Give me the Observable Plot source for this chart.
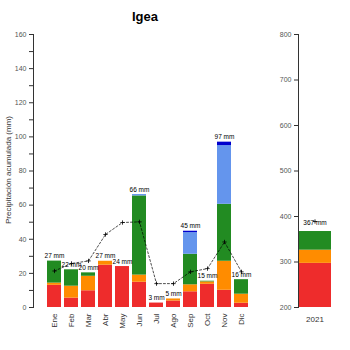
<!DOCTYPE html>
<html>
<head>
<meta charset="utf-8">
<script src="https://cdn.jsdelivr.net/npm/d3@7"></script>
<script src="https://cdn.jsdelivr.net/npm/@observablehq/plot@0.6"></script>
<style>
  html, body { margin: 0; padding: 0; background: #fff; }
  #wrap { position: relative; width: 350px; height: 350px; overflow: hidden; font-family: "Liberation Sans", Arial, sans-serif; }
  #left, #right { position: absolute; top: 0; }
  #left { left: 0; }
  #right { left: 262px; }
  #title { position: absolute; left: 95px; width: 100px; top: 9px; text-align: center; font-weight: bold; font-size: 13px; color: #000; }
  #ylab { position: absolute; left: 8px; top: 170px; transform: translate(-50%, -50%) rotate(-90deg); white-space: nowrap; font-size: 8px; color: #333; font-family: "Liberation Sans Narrow", "Liberation Sans", sans-serif; }
</style>
</head>
<body>
<div id="wrap">
  <div id="left"></div>
  <div id="right"></div>
  <div id="title">Igea</div>
  <div id="ylab">Precipitación acumulada (mm)</div>
</div>
<script>
const months = ["Ene","Feb","Mar","Abr","May","Jun","Jul","Ago","Sep","Oct","Nov","Dic"];
const classes = ["c1","c2","c3","c4","c5"];
const colors = ["#EE2C2C","#FF8C00","#228B22","#6495ED","#0000CD"];
const red       = [13.0, 5.5, 9.8, 24.8, 24.0, 14.8, 2.6, 3.8, 9.2, 13.6, 10.1, 2.5];
const orange    = [1.3, 7.0, 8.5, 2.3, 0, 4.2, 0, 1.2, 4.1, 1.4, 17.0, 5.3];
const green     = [12.9, 9.6, 2.0, 0, 0, 46.4, 0, 0, 17.9, 0.4, 33.4, 8.5];
const lightblue = [0, 0, 0, 0, 0, 0.8, 0, 0, 12.7, 0, 34.4, 0];
const darkblue  = [0, 0, 0, 0, 0, 0, 0, 0, 0.8, 0, 2.0, 0];
const totals    = [27, 22, 20, 27, 24, 66, 3, 5, 45, 15, 97, 16];
const average   = [21.4, 25.8, 27.3, 42.8, 49.8, 50.2, 14.0, 14.0, 20.9, 22.8, 38.4, 20.9];

const years = ["2021"];
const annualRed = [297];
const annualOrange = [29];
const annualGreen = [41];
const annualTotal = [367];
const annualAverage = [389];

const series = [red, orange, green, lightblue, darkblue];
const rows = [];
months.forEach((m, i) => series.forEach((s, k) => rows.push({month: m, cls: classes[k], value: s[i]})));
const totRows = months.map((m, i) => ({month: m, total: d3.sum(series, s => s[i]), label: totals[i] + " mm"}));
const avgRows = months.map((m, i) => ({month: m, avg: average[i]}));

const annualRows = [];
years.forEach((y, i) => [annualRed, annualOrange, annualGreen].forEach((s, k) => annualRows.push({year: y, cls: classes[k], value: s[i]})));
const annualTot = years.map((y, i) => ({year: y, total: annualTotal[i], label: annualTotal[i] + " mm"}));
const annualAvg = years.map((y, i) => ({year: y, avg: annualAverage[i]}));

const tickFont = "Liberation Sans Narrow, Liberation Sans, sans-serif";
const color = {domain: classes, range: colors};

const left = Plot.plot({
  width: 262, height: 350,
  marginLeft: 33, marginRight: 6, marginTop: 34, marginBottom: 43,
  style: {fontFamily: tickFont, fontSize: "7px", background: "transparent", color: "#333"},
  x: {domain: months, padding: 0.16, insetLeft: 6, label: null},
  y: {domain: [0, 160], label: null},
  color,
  marks: [
    Plot.axisY({ticks: d3.range(0, 161, 20), tickSize: 4, tickPadding: 3, label: null, fontSize: 7, fill: "#555"}),
    Plot.axisY({ticks: d3.range(10, 160, 20), tickSize: 4, tickFormat: () => "", label: null}),
    Plot.axisX({tickRotate: -90, tickSize: 0, tickPadding: 6, label: null, fontSize: 8, fill: "#333"}),
    Plot.barY(rows, {x: "month", y: "value", fill: "cls"}),
    Plot.frame({anchor: "left", stroke: "#333"}),
    Plot.line(avgRows, {x: "month", y: "avg", stroke: "#000", strokeWidth: 0.7, strokeDasharray: "2,2"}),
    Plot.dot(avgRows, {x: "month", y: "avg", symbol: "plus", r: 1.5, stroke: "#000", strokeWidth: 0.8}),
    Plot.text(totRows, {x: "month", y: "total", text: "label", dy: -5, fontSize: 6.5, fill: "#000"})
  ]
});
document.getElementById("left").append(left);

const right = Plot.plot({
  width: 88, height: 350,
  marginLeft: 36, marginRight: 19, marginTop: 34, marginBottom: 43,
  style: {fontFamily: tickFont, fontSize: "7px", background: "transparent", color: "#333"},
  x: {domain: years, padding: 0, label: null},
  y: {domain: [200, 800], label: null},
  color,
  marks: [
    Plot.axisY({ticks: d3.range(200, 801, 100), tickSize: 4, tickPadding: 3, label: null, fontSize: 7, fill: "#555"}),
    Plot.axisX({tickSize: 0, tickPadding: 9, label: null, fontSize: 8, fill: "#333"}),
    Plot.barY(annualRows, {x: "year", y: "value", fill: "cls", clip: true}),
    Plot.frame({anchor: "left", stroke: "#333"}),
    Plot.dot(annualAvg, {x: "year", y: "avg", symbol: "plus", r: 1.5, stroke: "#000", strokeWidth: 0.8}),
    Plot.text(annualTot, {x: "year", y: "total", text: "label", dy: -9, fontSize: 6.5, fill: "#000"})
  ]
});
document.getElementById("right").append(right);
</script>
</body>
</html>
